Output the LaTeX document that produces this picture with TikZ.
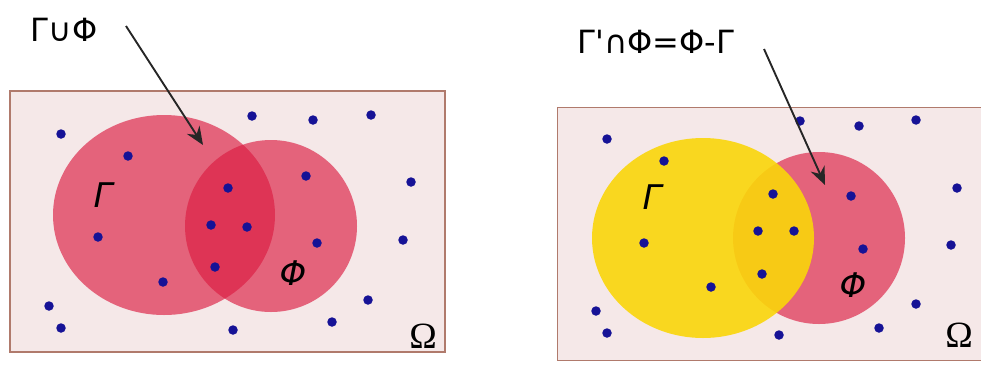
\documentclass[tikz,border=0pt]{standalone}
\usepackage{fontspec}
\setmainfont{DejaVu Sans}
\newfontfamily\omegafont{Liberation Serif}
\usetikzlibrary{arrows.meta}

\definecolor{omegabg}{RGB}{245,232,232}
\definecolor{omegaline}{RGB}{176,122,108}
\definecolor{setred}{RGB}{220,28,66}
\definecolor{setyellow}{RGB}{250,214,10}
\definecolor{elemblue}{RGB}{22,18,150}

\begin{document}
\begin{tikzpicture}[x=1pt, y=-1pt,
    universe/.style={draw=omegaline, fill=omegabg, line width=1.6pt},
    redset/.style={fill=setred, fill opacity=0.65},
    yellowset/.style={fill=setyellow, fill opacity=0.9},
    elem/.style={circle, fill=elemblue, inner sep=0pt, minimum size=9.5pt},
    pointer/.style={-{Stealth[length=18pt, width=15pt]}, line width=1.9pt, draw=black!85},
    title/.style={font=\fontsize{32}{38}\selectfont},
    setname/.style={font=\fontsize{34}{40}\selectfont\itshape},
    omeganame/.style={font=\fontsize{37}{42}\selectfont\omegafont}
]
    \useasboundingbox (0,0) rectangle (981,365);

    % left: union
    \draw [universe] (10,91) rectangle (445,352);
    \fill [redset] (164,215) ellipse [x radius=111pt, y radius=100pt];
    \fill [redset] (271,226) circle [radius=86pt];
    \foreach \x/\y [count=\i] in {61/134, 128/156, 252/116, 313/120, 371/115,
        306/176, 411/182, 228/188, 211/225, 247/227, 98/237, 317/243, 403/240,
        215/267, 163/282, 49/306, 368/300, 61/328, 233/330, 332/322}
        \node [elem] (l\i) at (\x,\y) {};
    \node [setname] (lgamma) at (103,195) {Γ};
    \node [setname] (lphi) at (293,273) {Φ};
    \node [omeganame] (lomega) at (423,336) {Ω};
    \node [title] (union) at (64,30) {Γ∪Φ};
    \coordinate (ustart) at (126,26);
    \coordinate (utip) at (203,145);
    \draw [pointer] (ustart) -- (utip);

    % right: complement of gamma inside phi
    \draw [universe, line width=1pt] (557,107) rectangle (995,360);
    \fill [redset] (819,238) circle [radius=86pt];
    \fill [yellowset] (703,238) ellipse [x radius=111pt, y radius=100pt];
    \foreach \x/\y [count=\i] in {607/139, 664/161, 800/121, 859/126, 916/120,
        773/194, 851/196, 957/188, 758/231, 794/231, 644/243, 863/249, 951/245,
        762/274, 711/287, 596/311, 916/304, 607/333, 779/335, 879/328}
        \node [elem] (r\i) at (\x,\y) {};
    \node [setname] (rgamma) at (652,197) {Γ};
    \node [setname] (rphi) at (853,285) {Φ};
    \node [omeganame] (romega) at (959,335) {Ω};
    \node [title] (difference) at (656,42) {Γ\textquotesingle∩Φ=Φ-Γ};
    \coordinate (dstart) at (764,49);
    \coordinate (dtip) at (825,185);
    \draw [pointer] (dstart) -- (dtip);

\end{tikzpicture}
\end{document}
